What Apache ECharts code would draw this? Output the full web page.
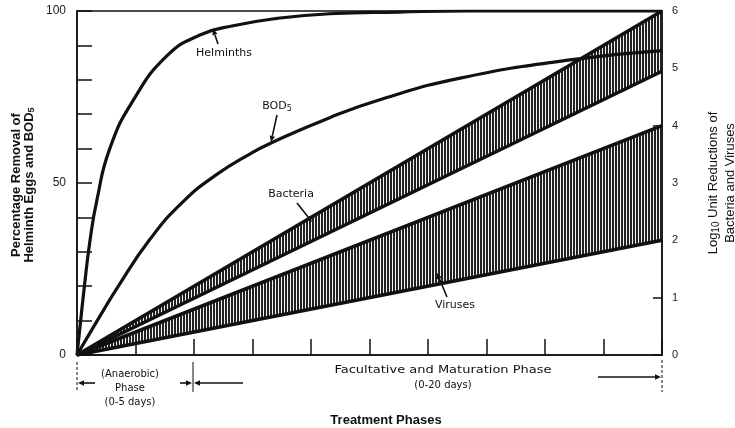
<!DOCTYPE html>
<html><head><meta charset="utf-8">
<script src="https://cdn.jsdelivr.net/npm/echarts@6/dist/echarts.min.js"></script>
<style>html,body{margin:0;padding:0;background:#fff}#c{width:735px;height:428px}</style>
</head><body><div id="c"></div>
<script>
// ---- data (x: treatment phase units 0-10) ----
const leftTickLabels = [0, 50, 100];
const rightTicks = [0, 1, 2, 3, 4, 5, 6];
const helminths = [[0,0],[0.05,8],[0.12,19],[0.22,33],[0.34,45],[0.56,60],[0.96,74],[1.54,87],[2.10,93],[2.67,95.7],[3.4,97.8],[4.32,99.2],[5.5,99.7],[6.7,100],[10,100]];
const bod5 = [[0,0],[0.40,11.5],[0.68,19.3],[1.25,33.7],[1.81,44.5],[2.39,52.5],[2.96,58.5],[3.30,61.5],[4.32,69],[5.23,74.5],[6.55,80.5],[8.43,85.8],[10,88.5]];
const bacteriaLower = [[0,0],[10,4.95]];
const bacteriaUpper = [[0,0],[10,6]];
const virusesLower = [[0,0],[10,2.0]];
const virusesUpper = [[0,0],[10,4.0]];

const chart = echarts.init(document.getElementById('c'), null, {renderer:'canvas'});

// hatch pattern (vertical lines)
const pc = document.createElement('canvas');
pc.width = 3; pc.height = 4;
const pctx = pc.getContext('2d');
pctx.fillStyle = '#f4f4f4'; pctx.fillRect(0,0,3,4);
pctx.fillStyle = '#222222'; pctx.fillRect(0,0,2,4);
const hatch = {image: pc, repeat: 'repeat'};

const FONT = 'Liberation Sans';
const LFONT = 'DejaVu Sans';
const lineCol = '#111';

function arrow(x1,y1,x2,y2,hl){
  hl = hl || 6;
  const a = Math.atan2(y2-y1, x2-x1);
  const w = hl*0.45;
  const bx = x2 - hl*Math.cos(a), by = y2 - hl*Math.sin(a);
  return [
    {type:'line', shape:{x1:x1,y1:y1,x2:bx,y2:by}, style:{stroke:lineCol, lineWidth:1.6}, z:100},
    {type:'polygon', shape:{points:[[x2,y2],[bx - w*Math.sin(a), by + w*Math.cos(a)],[bx + w*Math.sin(a), by - w*Math.cos(a)]]}, style:{fill:lineCol}, z:100}
  ];
}
function txt(s, x, y, opt, extra){
  return Object.assign({type:'text', x:x, y:y, z:100, style:Object.assign({text:s, font:'11px '+LFONT, fill:'#111', align:'center', verticalAlign:'middle'}, opt||{})}, extra||{});
}
function bandSeries(upper, lower){
  const poly = upper.concat(lower.slice().reverse());
  return {type:'custom', coordinateSystem:'cartesian2d', yAxisIndex:1, z:2, silent:true,
    data:[[upper[0][0], upper[0][1]]],
    renderItem:function(params, api){
      const pts = poly.map(p => api.coord(p));
      return {type:'polygon', shape:{points:pts}, style:{fill:hatch, stroke:null}};
    }};
}
function edge(d){
  return {type:'line', yAxisIndex:1, data:d, symbol:'none', lineStyle:{color:lineCol, width:3.5}, z:3};
}

const graphics = [].concat(
  [{type:'text', x:23, y:185, rotation:Math.PI/2, z:100,
    style:{text:'{b|Percentage Removal of}\n{b|Helminth Eggs and BOD}{s|5}', align:'center', verticalAlign:'middle', fill:'#111',
      rich:{b:{font:'bold 13px '+FONT, lineHeight:13, fill:'#111'}, s:{font:'bold 9px '+FONT, lineHeight:13, fill:'#111', padding:[5,0,0,0]}}}},
   {type:'text', x:722, y:183, rotation:Math.PI/2, z:100,
    style:{text:'{n|Log}{s|10}{n| Unit Reductions of}\n{n|Bacteria and Viruses}', align:'center', verticalAlign:'middle', fill:'#111',
      rich:{n:{font:'13px '+FONT, lineHeight:17, fill:'#111'}, s:{font:'10px '+FONT, lineHeight:17, fill:'#111', padding:[6,0,0,0]}}}}],
  [txt('Helminths', 224, 53)], arrow(218,44,213,29),
  [{type:'text', x:277, y:106, z:100, style:{text:'{n|BOD}{s|5}', align:'center', verticalAlign:'middle',
     rich:{n:{font:'11px '+LFONT, fill:'#111', lineHeight:14}, s:{font:'8px '+LFONT, fill:'#111', lineHeight:14, padding:[5,0,0,0]}}}}],
  arrow(277,115,271,142),
  [txt('Bacteria', 291, 194)], arrow(297,203,312,222),
  [txt('Viruses', 455, 305)], arrow(447,297,437,273),
  [{type:'line', shape:{x1:77,y1:362,x2:77,y2:392}, style:{stroke:lineCol, lineWidth:1, lineDash:[3,2]}},
   {type:'line', shape:{x1:193,y1:362,x2:193,y2:392}, style:{stroke:lineCol, lineWidth:1}},
   {type:'line', shape:{x1:662,y1:360,x2:662,y2:392}, style:{stroke:lineCol, lineWidth:1, lineDash:[3,2]}}],
  arrow(95,383,78,383), arrow(180,383,192,383), arrow(243,383,194,383), arrow(598,377,661,377),
  [txt('(Anaerobic)', 130, 374, {font:'10px '+LFONT}), txt('Phase', 130, 388, {font:'10px '+LFONT}), txt('(0-5 days)', 130, 402, {font:'10px '+LFONT}),
   txt('Facultative and Maturation Phase', 443, 370, {font:'10px '+LFONT}, {scaleX:1.3, originX:0, originY:0}),
   txt('(0-20 days)', 443, 385, {font:'10px '+LFONT}),
   txt('Treatment Phases', 386, 420, {font:'bold 13px '+FONT})]
);

const option = {
  animation:false,
  backgroundColor:'#fff',
  grid:{left:77, right:73, top:11, bottom:73, show:true, borderColor:'#111', borderWidth:1.5},
  xAxis:{type:'value', min:0, max:10, interval:1,
    axisLine:{show:true, lineStyle:{color:'#111', width:1.5}},
    axisTick:{show:true, inside:true, length:16, lineStyle:{color:'#111', width:1.5}},
    axisLabel:{show:false}, splitLine:{show:false}},
  yAxis:[
    {type:'value', min:0, max:100, interval:10, position:'left',
     axisLine:{show:true, lineStyle:{color:'#111', width:1.5}},
     axisTick:{show:true, inside:true, length:15, lineStyle:{color:'#111', width:1.5}},
     axisLabel:{margin:11, color:'#222', fontFamily:FONT, fontSize:12,
       formatter:v=> leftTickLabels.indexOf(v) >= 0 ? String(v) : ''},
     splitLine:{show:false}},
    {type:'value', min:0, max:6, interval:1, position:'right',
     axisLine:{show:true, lineStyle:{color:'#111', width:1.5}},
     axisTick:{show:true, inside:true, length:9, lineStyle:{color:'#111', width:1.5}},
     axisLabel:{margin:10, color:'#222', fontFamily:FONT, fontSize:11,
       formatter:v=> rightTicks.indexOf(v) >= 0 ? String(v) : ''},
     splitLine:{show:false}}
  ],
  series:[
    bandSeries(virusesUpper, virusesLower),
    bandSeries(bacteriaUpper, bacteriaLower),
    edge(virusesLower), edge(virusesUpper), edge(bacteriaLower), edge(bacteriaUpper),
    {type:'line', yAxisIndex:0, data:bod5, smooth:0.5, symbol:'none', lineStyle:{color:lineCol, width:3.2}, z:5},
    {type:'line', yAxisIndex:0, data:helminths, smooth:0.5, symbol:'none', lineStyle:{color:lineCol, width:3.2}, z:5}
  ],
  graphic:graphics
};
chart.setOption(option);
</script></body></html>
